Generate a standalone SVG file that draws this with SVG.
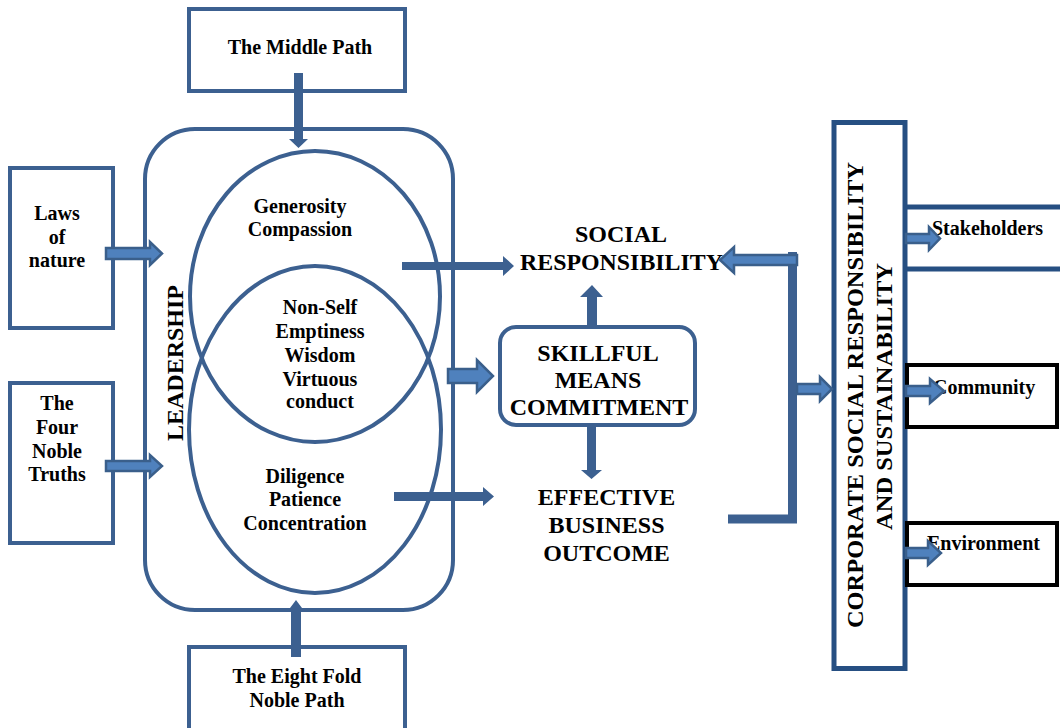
<svg xmlns="http://www.w3.org/2000/svg" width="1060" height="728" viewBox="0 0 1060 728">
<style>
.box{fill:#fff;stroke:#3c6090;stroke-width:4}
.dk{fill:none;stroke:#264f82;stroke-width:5}
.bk{fill:#fff;stroke:#000;stroke-width:4}
.ell{fill:none;stroke:#3c6090;stroke-width:4}
.t{font-family:"Liberation Serif","Times New Roman",serif;font-weight:bold;font-size:20px;fill:#000;text-anchor:middle}
.tl{font-family:"Liberation Serif","Times New Roman",serif;font-weight:bold;font-size:20px;fill:#000}
.T{font-family:"Liberation Serif","Times New Roman",serif;font-weight:bold;font-size:24px;fill:#000;text-anchor:middle}
.sa{fill:#3c6090;stroke:none}
.ba{fill:#4f81bd;stroke:#3a5f8b;stroke-width:2.5;stroke-linejoin:miter}
.br{fill:none;stroke:#3c6090;stroke-width:9;stroke-linejoin:miter}
</style>
<rect width="1060" height="728" fill="#fff"/>

<g id="middle-path">
<rect class="box" x="189" y="9" width="216" height="82"/>
<text class="t" x="300" y="54">The Middle Path</text>
</g>

<g id="leadership">
<rect class="box" x="145" y="129" width="308" height="481" rx="50" ry="50" style="fill:none"/>
<text class="T" transform="translate(183,363) rotate(-90)">LEADERSHIP</text>
</g>

<g id="circles">
<ellipse class="ell" cx="315" cy="296.5" rx="125" ry="145.5"/>
<ellipse class="ell" cx="315" cy="429.5" rx="126" ry="163.5"/>
</g>

<g id="generosity">
<text class="t" x="300" y="213">Generosity</text>
<text class="t" x="300" y="236">Compassion</text>
</g>

<g id="nonself">
<text class="t" x="320" y="314">Non-Self</text>
<text class="t" x="320" y="338">Emptiness</text>
<text class="t" x="320" y="362">Wisdom</text>
<text class="t" x="320" y="386">Virtuous</text>
<text class="t" x="320" y="408">conduct</text>
</g>

<g id="diligence">
<text class="t" x="305" y="483">Diligence</text>
<text class="t" x="305" y="506">Patience</text>
<text class="t" x="305" y="530">Concentration</text>
</g>

<g id="eight-fold">
<rect class="box" x="189" y="647" width="216" height="90"/>
<text class="t" x="297" y="683">The Eight Fold</text>
<text class="t" x="297" y="707">Noble Path</text>
</g>

<g id="laws">
<rect class="box" x="10" y="168" width="103" height="160"/>
<text class="t" x="57" y="220">Laws</text>
<text class="t" x="57" y="244">of</text>
<text class="t" x="57" y="267">nature</text>
</g>

<g id="truths">
<rect class="box" x="10" y="383" width="103" height="160"/>
<text class="t" x="57" y="410">The</text>
<text class="t" x="57" y="434">Four</text>
<text class="t" x="57" y="458">Noble</text>
<text class="t" x="57" y="481">Truths</text>
</g>

<g id="skillful">
<rect class="box" x="500" y="327" width="195" height="98" rx="16" ry="16"/>
<text class="T" x="598" y="361">SKILLFUL</text>
<text class="T" x="598" y="388">MEANS</text>
<text class="T" x="599" y="415">COMMITMENT</text>
</g>

<g id="social">
<text class="T" x="621" y="242">SOCIAL</text>
<text class="T" x="621.5" y="270" textLength="203" lengthAdjust="spacingAndGlyphs">RESPONSIBILITY</text>
</g>

<g id="effective">
<text class="T" x="606.5" y="505">EFFECTIVE</text>
<text class="T" x="606.5" y="533">BUSINESS</text>
<text class="T" x="606.5" y="561">OUTCOME</text>
</g>

<g id="csr">
<rect class="dk" x="834" y="122.5" width="71" height="546" style="fill:#fff"/>
<text class="T" transform="translate(863,395) rotate(-90)" textLength="466" lengthAdjust="spacingAndGlyphs">CORPORATE SOCIAL RESPONSIBILITY</text>
<text class="T" transform="translate(892,396.5) rotate(-90)" textLength="267" lengthAdjust="spacingAndGlyphs">AND SUSTAINABILITY</text>
</g>

<g id="stakeholders">
<path class="dk" d="M906,207 H1062 M906,269 H1062" style="stroke-width:5"/>
<text class="tl" x="932" y="235">Stakeholders</text>
</g>

<g id="community">
<rect class="bk" x="907" y="365" width="150" height="62"/>
<text class="tl" x="933" y="394">Community</text>
</g>

<g id="environment">
<rect class="bk" x="907" y="523" width="150" height="62"/>
<text class="tl" x="927" y="550">Environment</text>
</g>

<g id="connectors">
<polygon class="sa" points="294,73 303,73 303,139 308,139 298.5,148 289,139 294,139"/>
<polygon class="sa" points="291,657 301,657 301,612 305,612 296,600 287,612 291,612"/>
<polygon class="ba" points="106,248 150,248 150,242 162,253.5 150,265 150,259 106,259"/>
<polygon class="ba" points="106,461 150,461 150,455 162,466 150,477 150,471 106,471"/>
<polygon class="sa" points="402,262 503,262 503,256 514,266 503,276 503,270 402,270"/>
<polygon class="sa" points="394,492 483,492 483,487 494,496.5 483,506 483,501 394,501"/>
<polygon class="ba" points="448,369 477,369 477,360 493,376 477,392 477,383 448,383"/>
<polygon class="sa" points="587,327 587,297 580,297 592,285 603,297 597,297 597,327"/>
<polygon class="sa" points="587,425 596,425 596,470 602,470 591.5,479 581,470 587,470"/>
<path class="br" d="M728,519 H792.5 V252"/>
<polygon class="ba" points="797,255 734,255 734,247 720,260 734,273 734,265 797,265"/>
<polygon class="ba" points="797,384 820,384 820,377 832,389 820,401 820,394 797,394"/>
<polygon class="ba" points="906,234 929,234 929,227 940,238.5 929,250 929,243 906,243"/>
<polygon class="ba" points="906,386 930,386 930,379 944,391 930,403 930,396 906,396"/>
<polygon class="ba" points="906,548 928,548 928,541 941,553 928,565 928,558 906,558"/>
</g>
</svg>
